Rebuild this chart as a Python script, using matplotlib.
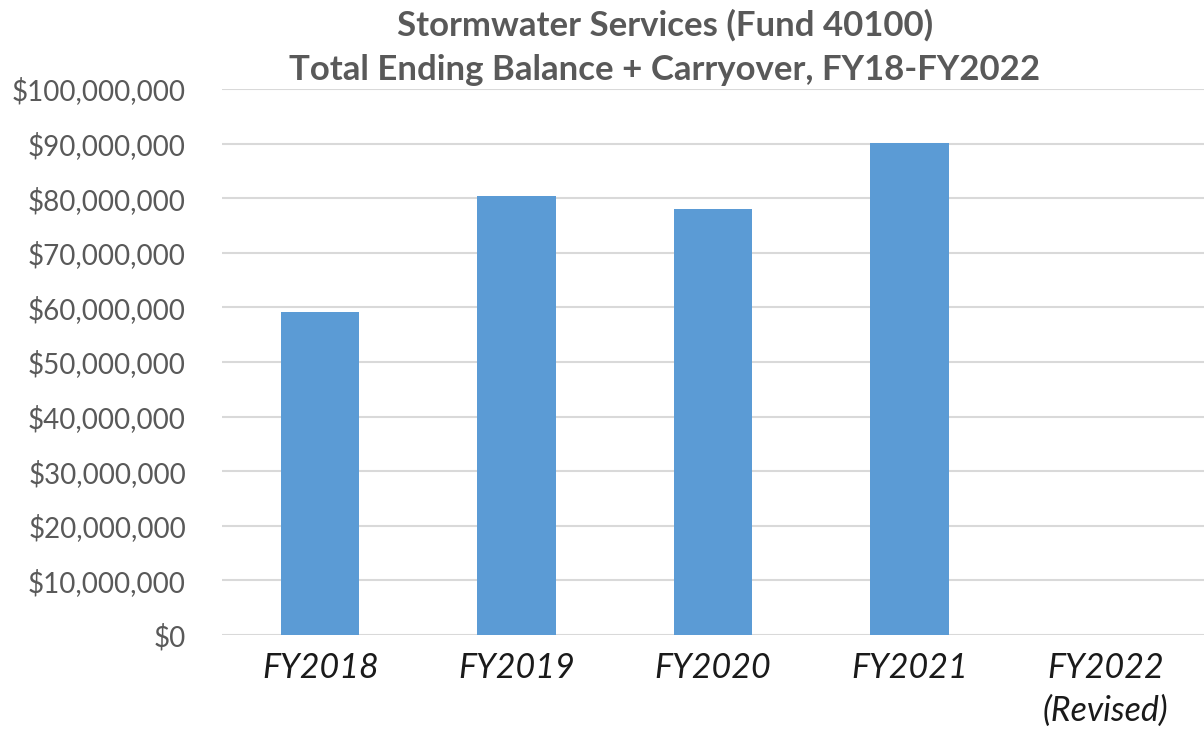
import matplotlib.pyplot as plt
from matplotlib.ticker import FuncFormatter

# Chart data
categories = ["FY2018", "FY2019", "FY2020", "FY2021", "FY2022\n(Revised)"]
balances = [59200000, 80500000, 78100000, 90200000, 0]
y_ticks = list(range(0, 100000001, 10000000))

plt.rcParams['font.family'] = ['Lato', 'DejaVu Sans']

fig = plt.figure(figsize=(12.04, 7.36), dpi=100)
ax = fig.add_axes([0.1844, 0.1372, 0.8156, 0.7418])

ax.bar(range(len(categories)), balances, width=0.4, color="#5B9BD5", zorder=3)

ax.set_xlim(-0.5, len(categories) - 0.5)
ax.set_ylim(0, 100000000)
ax.set_yticks(y_ticks)
ax.yaxis.set_major_formatter(FuncFormatter(lambda v, p: f"${v:,.0f}"))
ax.grid(axis="y", color="#D9D9D9", linewidth=1.5, zorder=0)

ax.set_xticks(range(len(categories)))
ax.set_xticklabels(categories, fontsize=24.5, fontstyle="italic", color="#1a1a1a",
                   linespacing=1.4, va="top")
ax.tick_params(axis="x", length=0, pad=12)
ax.tick_params(axis="y", length=0, pad=26, labelsize=20, labelcolor="#595959")

for s in ax.spines.values():
    s.set_visible(False)

fig.text(0.552, 0.988, "Stormwater Services (Fund 40100)\nTotal Ending Balance + Carryover, FY18-FY2022",
         ha="center", va="top", fontsize=25, fontweight="bold", color="#595959", linespacing=1.5)

fig.savefig("out.png", dpi=100)
